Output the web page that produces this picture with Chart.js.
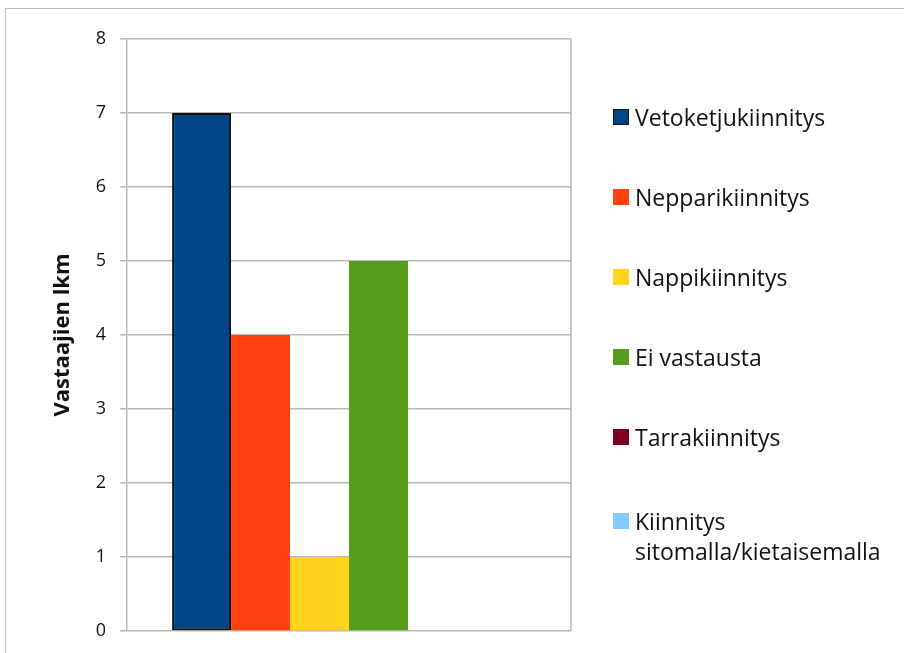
<!DOCTYPE html>
<html>
<head>
<meta charset="utf-8">
<script src="https://cdn.jsdelivr.net/npm/chart.js@4"></script>
<style>
  body { margin: 0; background: #fff; }
  #wrap { position: relative; width: 904px; height: 653px; overflow: hidden; }
  #frame { position: absolute; left: 5px; top: 8px; width: 1000px; height: 1000px;
           border-left: 1.5px solid #c0c0c0; border-top: 1.5px solid #c0c0c0; }
  canvas { position: absolute; left: 0; top: 0; }
  #legend { position: absolute; left: 613px; top: 0; font-family: "Open Sans", sans-serif;
            font-size: 23px; color: #111; }
  .item { position: absolute; left: 0; display: flex; align-items: flex-start; white-space: nowrap; }
  .box { width: 16px; height: 16px; margin-top: 7px; margin-right: 6px; box-sizing: border-box; flex: none; }
  .txt { line-height: 30px; }
</style>
</head>
<body>
<div id="wrap">
  <div id="frame"></div>
  <canvas id="chart" width="904" height="653"></canvas>
  <div id="legend"></div>
</div>
<script>
// data
const categories = [''];
const seriesNames = ['Vetoketjukiinnitys', 'Nepparikiinnitys', 'Nappikiinnitys', 'Ei vastausta',
                     'Tarrakiinnitys', 'Kiinnitys\nsitomalla/kietaisemalla'];
const seriesValues = [7, 4, 1, 5, 0, 0];
const seriesColors = ['#004586', '#ff420e', '#ffd320', '#579d1c', '#7e0021', '#83caff'];
const yTicks = [0, 1, 2, 3, 4, 5, 6, 7, 8];

const gridColor = '#b8b8b8';

// oikea reuna piirtoalueelle
const frameRight = {
  id: 'frameRight',
  afterDraw(chart) {
    const { ctx, chartArea } = chart;
    ctx.save();
    ctx.strokeStyle = gridColor;
    ctx.lineWidth = 1.5;
    ctx.beginPath();
    ctx.moveTo(chartArea.right, chartArea.top);
    ctx.lineTo(chartArea.right, chartArea.bottom);
    ctx.stroke();
    ctx.restore();
  }
};

const chart = new Chart(document.getElementById('chart'), {
  type: 'bar',
  data: {
    labels: categories,
    datasets: seriesNames.map((name, i) => ({
      label: name,
      data: [seriesValues[i]],
      backgroundColor: seriesColors[i],
      borderColor: i === 0 ? '#111' : seriesColors[i],
      borderWidth: i === 0 ? 2 : 0,
      borderSkipped: false,
      categoryPercentage: 0.797,
      barPercentage: 1
    }))
  },
  options: {
    responsive: false,
    animation: false,
    layout: { padding: { top: 39, right: 333, bottom: 22, left: 0 } },
    plugins: { legend: { display: false }, tooltip: { enabled: false } },
    scales: {
      x: { display: false },
      y: {
        min: 0, max: 8,
        afterFit(scale) {
          scale.width = 127;
          // ei lisätilaa ylä- ja alareunaan nimikkeille
          scale.paddingTop = 0;
          scale.paddingBottom = 0;
        },
        afterBuildTicks(scale) { scale.ticks = yTicks.map(v => ({ value: v })); },
        ticks: { stepSize: 1, padding: 14, color: '#111',
                 font: { family: '"Open Sans", sans-serif', size: 18 } },
        grid: { color: gridColor, lineWidth: 1.5, tickLength: 7 },
        border: { color: gridColor, width: 1.5 },
        title: { display: true, text: 'Vastaajien lkm', color: '#111',
                 font: { family: '"Open Sans", sans-serif', size: 22, weight: 'bold' },
                 padding: { top: 50, bottom: 0 } }
      }
    }
  },
  plugins: [frameRight]
});

// legenda datasarjoista
const legendEl = document.getElementById('legend');
let itemTop = 102;
chart.data.datasets.forEach((ds, i) => {
  const item = document.createElement('div');
  item.className = 'item';
  item.style.top = itemTop + 'px';
  const box = document.createElement('div');
  box.className = 'box';
  box.style.background = ds.backgroundColor;
  if (i === 0) box.style.border = '1.5px solid #111';
  const txt = document.createElement('div');
  txt.className = 'txt';
  txt.innerHTML = ds.label.split('\n').join('<br>');
  item.appendChild(box);
  item.appendChild(txt);
  legendEl.appendChild(item);
  itemTop += i === 4 ? 84 : 80;
});
</script>
</body>
</html>
